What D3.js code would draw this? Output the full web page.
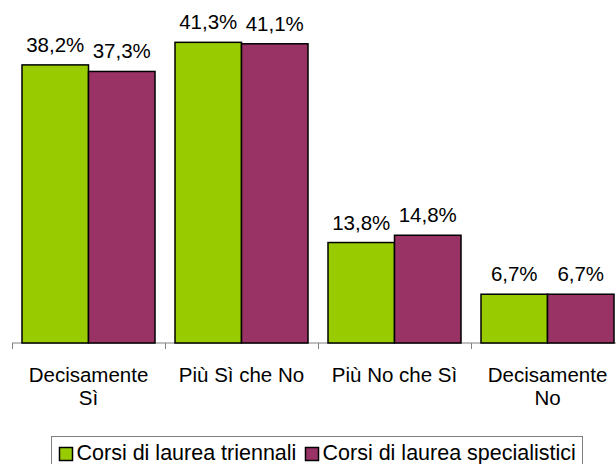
<!DOCTYPE html>
<html>
<head>
<meta charset="utf-8">
<script src="https://cdn.jsdelivr.net/npm/d3@7"></script>
<style>
  html, body { margin: 0; padding: 0; background: #fff; }
  svg { display: block; font-family: "Liberation Sans", Arial, sans-serif; }
</style>
</head>
<body>
<svg id="chart" width="616" height="464"></svg>
<script>
const categories = ["Decisamente Sì", "Più Sì che No", "Più No che Sì", "Decisamente No"];
const categoryLines = [["Decisamente", "Sì"], ["Più Sì che No"], ["Più No che Sì"], ["Decisamente", "No"]];
const seriesNames = ["Corsi di laurea triennali", "Corsi di laurea specialistici"];
const triennali = [38.2, 41.3, 13.8, 6.7];
const specialistici = [37.3, 41.1, 14.8, 6.7];
const valueLabelsTri = ["38,2%", "41,3%", "13,8%", "6,7%"];
const valueLabelsSpec = ["37,3%", "41,1%", "14,8%", "6,7%"];
const colors = ["#99CC00", "#993366"];

const svg = d3.select("#chart");

const x0 = d3.scaleBand().domain(categories).range([12, 624]).paddingInner(0).paddingOuter(0);
const x1 = d3.scaleBand().domain(seriesNames).range([10, 143]);
const y = d3.scaleLinear().domain([0, 45]).range([343, 15.4]);

const rows = categories.map((c, i) => ({
  cat: c,
  vals: [
    { s: seriesNames[0], v: triennali[i], lab: valueLabelsTri[i], col: colors[0] },
    { s: seriesNames[1], v: specialistici[i], lab: valueLabelsSpec[i], col: colors[1] }
  ]
}));

// axis
const axisG = svg.append("g").attr("transform", `translate(0,${y(0)})`);
axisG.append("line").attr("x1", 12).attr("x2", 616).attr("y1", 0).attr("y2", 0)
  .attr("stroke", "#808080").attr("stroke-width", 1);
const tickPos = categories.map(c => x0(c)).concat([x0(categories[categories.length - 1]) + x0.bandwidth()]);
axisG.selectAll("line.tick").data(tickPos).enter().append("line")
  .attr("class", "tick")
  .attr("x1", d => d + 0.5).attr("x2", d => d + 0.5)
  .attr("y1", 0).attr("y2", 6)
  .attr("stroke", "#808080").attr("stroke-width", 1);

// bars
const groups = svg.selectAll("g.grp").data(rows).enter().append("g")
  .attr("class", "grp")
  .attr("transform", d => `translate(${x0(d.cat)},0)`);

groups.selectAll("rect").data(d => d.vals).enter().append("rect")
  .attr("x", d => x1(d.s))
  .attr("width", x1.bandwidth())
  .attr("y", d => y(d.v))
  .attr("height", d => y(0) - y(d.v))
  .attr("fill", d => d.col)
  .attr("stroke", "#000")
  .attr("stroke-width", 1.5);

groups.selectAll("text.val").data(d => d.vals).enter().append("text")
  .attr("class", "val")
  .attr("x", d => x1(d.s) + x1.bandwidth() / 2)
  .attr("y", d => y(d.v) - 13)
  .attr("text-anchor", "middle")
  .attr("font-size", 20.5)
  .attr("fill", "#000")
  .text(d => d.lab);

// category labels
categories.forEach((c, i) => {
  const cx = x0(c) + x0.bandwidth() / 2;
  const t = svg.append("text")
    .attr("x", cx).attr("y", 382)
    .attr("text-anchor", "middle")
    .attr("font-size", 20.5)
    .attr("fill", "#000");
  categoryLines[i].forEach((ln, j) => {
    t.append("tspan").attr("x", cx).attr("dy", j === 0 ? 0 : 23).text(ln);
  });
});

// legend
const leg = svg.append("g");
leg.append("rect").attr("x", 51.5).attr("y", 436.5).attr("width", 531).attr("height", 40)
  .attr("fill", "#fff").attr("stroke", "#808080").attr("stroke-width", 1);
const legX = [59.5, 305.5];
seriesNames.forEach((s, i) => {
  leg.append("rect").attr("x", legX[i]).attr("y", 447.5).attr("width", 13).attr("height", 13)
    .attr("fill", colors[i]).attr("stroke", "#000").attr("stroke-width", 1.5);
  leg.append("text").attr("x", legX[i] + 17).attr("y", 460)
    .attr("font-size", 21.5).attr("fill", "#000").text(s);
});
</script>
</body>
</html>
